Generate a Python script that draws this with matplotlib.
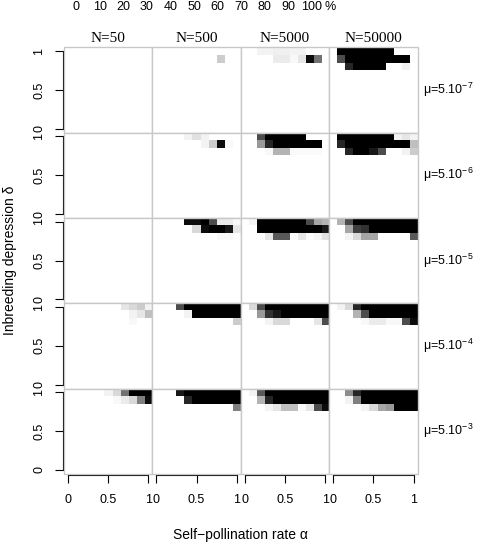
import numpy as np
import matplotlib.pyplot as plt
from matplotlib.patches import Rectangle

plt.rcParams['font.family'] = ['Liberation Sans', 'DejaVu Sans']
plt.rcParams['mathtext.fontset'] = 'custom'
plt.rcParams['mathtext.rm'] = 'Liberation Sans'
plt.rcParams['mathtext.it'] = 'Liberation Sans:italic'

# grid of the simulations
alpha_vals = [0.0, 0.1, 0.2, 0.3, 0.4, 0.5, 0.6, 0.7, 0.8, 0.9, 1.0]
delta_vals = [0.0, 0.1, 0.2, 0.3, 0.4, 0.5, 0.6, 0.7, 0.8, 0.9, 1.0]
pop_sizes = ['N=50', 'N=500', 'N=5000', 'N=50000']
mu_exps = ['-7', '-6', '-5', '-4', '-3']
bar_labels = ['0', '10', '20', '30', '40', '50', '60', '70', '80', '90', '100']

# % of runs, rows for delta = 1.0, 0.9, 0.8 (all lower rows are 0)
# one list per mutation rate, panels in order N=50, 500, 5000, 50000
pct_mu7 = [
    [[0]*11, [0]*11, [0]*11],
    [[0]*11,
     [0, 0, 0, 0, 0, 0, 0, 0, 20, 0, 0],
     [0]*11],
    [[0, 0, 5, 5, 6, 6, 5, 5, 0, 0, 0],
     [0, 0, 0, 0, 8, 8, 3, 10, 95, 55, 0],
     [0]*11],
    [[0, 100, 100, 100, 100, 100, 100, 100, 0, 0, 0],
     [0, 70, 100, 100, 100, 100, 100, 100, 100, 100, 0],
     [0, 0, 85, 100, 100, 100, 100, 0, 0, 5, 0]],
]
pct_mu6 = [
    [[0]*11, [0]*11, [0]*11],
    [[0, 0, 0, 0, 5, 12, 5, 0, 0, 0, 0],
     [0, 0, 0, 0, 0, 0, 5, 20, 95, 3, 0],
     [0]*11],
    [[0, 0, 70, 100, 100, 100, 100, 100, 0, 0, 0],
     [0, 0, 40, 85, 100, 100, 100, 100, 100, 100, 0],
     [0, 0, 0, 3, 30, 30, 2, 2, 2, 2, 0]],
    [[0, 100, 100, 100, 100, 100, 100, 100, 5, 10, 5],
     [0, 85, 100, 100, 100, 100, 100, 100, 100, 100, 25],
     [0, 0, 85, 100, 100, 90, 70, 0, 0, 5, 20]],
]
pct_mu5 = [
    [[0]*11, [0]*11, [0]*11],
    [[0, 0, 0, 0, 95, 95, 100, 70, 8, 8, 3],
     [0, 0, 0, 0, 0, 15, 95, 100, 100, 90, 10],
     [0, 0, 0, 0, 0, 0, 0, 0, 3, 3, 0]],
    [[0, 5, 100, 100, 100, 100, 100, 100, 70, 35, 30],
     [0, 0, 100, 100, 100, 100, 100, 100, 100, 100, 90],
     [0, 0, 0, 10, 65, 65, 2, 10, 2, 5, 12]],
    [[0, 30, 70, 100, 100, 100, 100, 100, 100, 100, 100],
     [0, 0, 35, 75, 80, 100, 100, 100, 100, 100, 100],
     [0, 0, 5, 15, 35, 35, 0, 0, 0, 0, 65]],
]
pct_mu4 = [
    [[0, 0, 0, 0, 0, 0, 0, 10, 15, 20, 5],
     [0, 0, 0, 0, 0, 0, 0, 0, 5, 10, 25],
     [0, 0, 0, 0, 0, 0, 0, 0, 3, 0, 0]],
    [[0, 0, 0, 70, 100, 100, 100, 100, 100, 100, 100],
     [0, 0, 0, 0, 5, 100, 100, 100, 100, 100, 100],
     [0, 0, 0, 0, 0, 0, 0, 0, 0, 0, 20]],
    [[0, 15, 70, 100, 100, 100, 100, 100, 100, 100, 100],
     [0, 0, 40, 80, 90, 100, 100, 100, 100, 100, 100],
     [0, 0, 0, 5, 15, 15, 0, 0, 0, 10, 70]],
    [[0, 5, 15, 85, 100, 100, 100, 100, 100, 100, 100],
     [0, 0, 0, 30, 70, 100, 100, 100, 100, 100, 100],
     [0, 0, 0, 0, 3, 8, 8, 3, 3, 70, 95]],
]
pct_mu3 = [
    [[0, 0, 0, 0, 0, 5, 15, 55, 100, 100, 100],
     [0, 0, 0, 0, 0, 0, 3, 8, 15, 50, 95],
     [0]*11],
    [[0, 0, 0, 90, 100, 100, 100, 100, 100, 100, 100],
     [0, 0, 0, 0, 85, 100, 100, 100, 100, 100, 100],
     [0, 0, 0, 0, 0, 0, 0, 0, 0, 0, 50]],
    [[0, 5, 65, 100, 100, 100, 100, 100, 100, 100, 100],
     [0, 0, 30, 85, 100, 100, 100, 100, 100, 100, 100],
     [0, 0, 0, 5, 10, 25, 25, 2, 10, 70, 95]],
    [[0, 0, 45, 85, 100, 100, 100, 100, 100, 100, 100],
     [0, 0, 5, 50, 100, 100, 100, 100, 100, 100, 100],
     [0, 0, 0, 0, 5, 15, 35, 40, 100, 100, 100]],
]
all_mu = [pct_mu7, pct_mu6, pct_mu5, pct_mu4, pct_mu3]

W, H = 480, 544
fig = plt.figure(figsize=(W / 100, H / 100), dpi=100)

x0, pw = 64, 88.4
y0, ph = 47.3, 85.3
da = (alpha_vals[1] - alpha_vals[0]) / 2
dd = (delta_vals[1] - delta_vals[0]) / 2
ext = (alpha_vals[0] - da, alpha_vals[-1] + da, delta_vals[0] - dd, delta_vals[-1] + dd)

for r, panels in enumerate(all_mu):
    for c, top in enumerate(panels):
        left = (x0 + c * pw) / W
        bottom = 1 - (y0 + (r + 1) * ph) / H
        ax = fig.add_axes([left, bottom, pw / W, ph / H])
        grid = np.zeros((len(delta_vals), len(alpha_vals)))
        grid[-1] = top[0]
        grid[-2] = top[1]
        grid[-3] = top[2]
        ax.imshow(grid, cmap='gray_r', vmin=0, vmax=100, origin='lower',
                  extent=ext, aspect='auto', interpolation='nearest')
        ax.set_xlim(ext[0], ext[1])
        ax.set_ylim(ext[2], ext[3])
        for s in ax.spines.values():
            s.set_visible(False)
        ax.add_patch(Rectangle((0, 0), 1, 1, transform=ax.transAxes, fill=False,
                               ec='#c8c8c8', lw=1, clip_on=False, zorder=5))
        ax.tick_params(length=5.5, width=0.8, labelsize=9, direction='out')
        if c == 0:
            ax.spines['left'].set_visible(True)
            ax.spines['left'].set_bounds(0, 1)
            ax.spines['left'].set_position(('outward', 1))
            ax.spines['left'].set_linewidth(0.8)
            ax.set_yticks([0, 0.5, 1])
            ax.set_yticklabels(['0', '0.5', '1'], rotation=90, va='center')
            ax.tick_params(axis='y', pad=7)
        else:
            ax.set_yticks([])
        if r == len(all_mu) - 1:
            ax.spines['bottom'].set_visible(True)
            ax.spines['bottom'].set_bounds(0, 1)
            ax.spines['bottom'].set_position(('outward', 1))
            ax.spines['bottom'].set_linewidth(0.8)
            ax.set_xticks([0, 0.5, 1])
            ax.set_xticklabels(['0', '0.5', '1'])
            ax.tick_params(axis='x', pad=8)
        else:
            ax.set_xticks([])
        if r == 0:
            ax.set_title(pop_sizes[c], fontsize=11, family='Liberation Serif', pad=4)
        if c == len(panels) - 1:
            ax.text(1.06, 0.5, 'μ=5.10$^{' + mu_exps[r].replace('-', '−') + '}$',
                    transform=ax.transAxes, ha='left', va='center', fontsize=9)

# labels of the grey scale, kept just inside the top edge
for i, lab in enumerate(bar_labels):
    fig.text((76 + i * 23.6) / W, 1 - 6.5 / H, lab, ha='center', va='center', fontsize=9)
fig.text(330 / W, 1 - 6.5 / H, '%', ha='center', va='center', fontsize=9)

fig.text(0.5 * (x0 + x0 + 4 * pw) / W, 1 - 535 / H, 'Self−pollination rate α',
         ha='center', va='center', fontsize=10)
fig.text(10 / W, 1 - (y0 + 2.5 * ph) / H, 'Inbreeding depression δ',
         ha='center', va='center', rotation=90, fontsize=10)

fig.savefig('out.png', dpi=100)
